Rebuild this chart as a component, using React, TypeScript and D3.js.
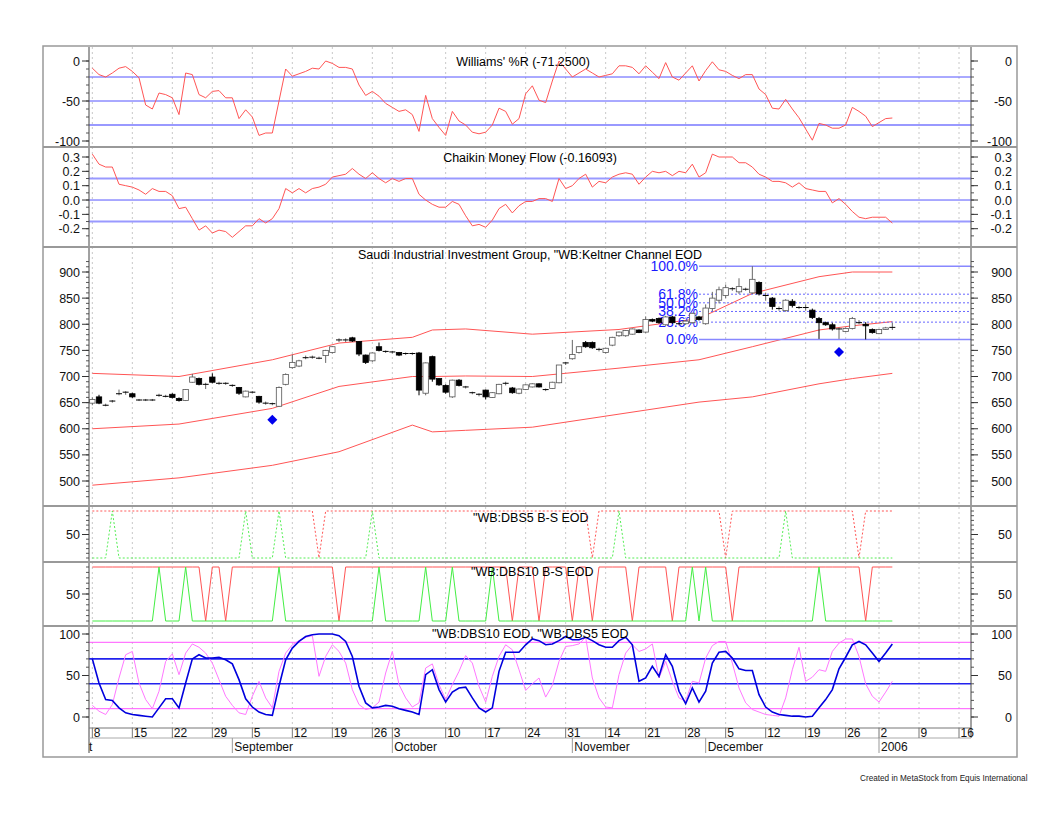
import * as d3 from "d3";

// ---- data (one value per trading bar, Aug 8 2005 .. Jan 3 2006) ----
const opens = [649,661,645,652,666,670,667,655,655,655,664,662,666,658,654,689,696,685,699,687,687,683,679,661,670,662,649,648,643,685,717,720,736,737,735,740,746,770,770,774,767,741,730,757,748,747,746,744,744,745,668,738,696,683,661,693,680,669,666,674,660,667,687,678,668,675,680,686,675,677,688,726,734,746,765,765,752,746,760,778,778,781,789,785,809,811,799,814,801,801,803,814,801,830,846,855,868,862,867,860,880,855,850,830,826,844,832,832,827,811,803,799,791,786,792,803,800,790,782,790,794];
const highs = [660,665,648,655,675,672,669,657,657,657,667,665,668,660,676,705,698,688,706,690,689,685,680,673,672,663,652,650,681,706,742,732,740,740,738,751,758,773,773,776,768,742,746,765,750,749,747,746,746,747,727,740,697,685,694,695,682,671,668,675,670,686,690,680,677,685,687,687,677,690,722,728,770,758,768,767,755,755,776,786,789,792,790,815,811,813,816,816,804,808,822,816,838,862,872,876,871,888,870,911,882,860,852,834,848,848,835,838,830,814,805,803,794,794,814,808,804,792,791,795,803];
const lows = [645,647,643,650,664,665,659,653,653,653,661,660,658,652,653,688,683,676,687,684,684,680,665,660,668,648,646,645,642,683,715,718,733,734,733,726,744,766,766,766,739,724,728,748,745,744,739,741,741,664,664,690,682,667,659,681,677,666,662,656,659,666,683,667,666,674,679,679,672,676,687,722,732,744,755,753,748,744,758,776,776,780,783,783,804,801,797,801,798,799,801,807,799,825,840,850,864,858,864,858,855,845,828,826,824,832,829,826,810,772,797,788,772,785,790,800,771,782,781,789,789];
const closes = [656,649,645,653,667,670,661,655,655,655,664,662,660,654,675,699,685,685,689,687,687,683,668,672,670,651,649,648,679,704,727,730,736,737,735,750,757,770,770,768,743,727,745,750,748,747,741,744,744,674,726,695,684,670,693,683,680,669,666,661,669,685,687,669,676,684,686,680,675,689,722,726,742,757,757,755,752,754,775,785,788,791,784,809,806,803,814,803,801,806,821,809,831,850,866,870,868,872,867,886,858,855,834,830,846,836,832,832,813,803,799,791,791,792,811,803,797,784,790,793,794];

const williamsR = [-9,-17,-20,-15,-9,-7,-13,-21,-55,-60,-40,-42,-46,-67,-15,-17,-42,-46,-38,-37,-46,-46,-72,-61,-70,-93,-90,-90,-50,-10,-19,-16,-13,-9,-10,0,-3,-8,-8,-10,-30,-43,-38,-44,-53,-58,-63,-61,-67,-88,-43,-72,-83,-93,-63,-75,-80,-89,-91,-89,-80,-59,-63,-79,-72,-41,-31,-49,-52,-25,0,-10,-20,-15,-10,-15,-20,-18,-16,-6,-6,-8,-16,-6,-14,-22,-2,-20,-24,-15,-6,-25,-12,-1,-11,-13,-18,-22,-17,-17,-35,-42,-59,-60,-48,-60,-71,-85,-99,-78,-80,-84,-84,-80,-58,-63,-69,-82,-77,-72,-71.25];
const chaikin = [.32,.25,.23,.23,.11,.10,.09,.07,.04,.08,.06,.06,.03,-.06,-.05,-.13,-.21,-.18,-.23,-.21,-.22,-.26,-.22,-.18,-.18,-.13,-.16,-.13,-.06,.08,.05,.08,.05,.08,.09,.11,.16,.17,.18,.22,.18,.15,.19,.15,.12,.15,.13,.15,.15,.04,0,-.03,-.05,-.05,-.01,-.03,-.11,-.18,-.17,-.19,-.14,-.06,-.03,-.09,-.04,-.01,-.01,.01,.01,-.01,.15,.08,.10,.15,.18,.09,.13,.12,.16,.18,.19,.18,.11,.16,.20,.19,.20,.17,.20,.19,.25,.16,.19,.32,.30,.30,.30,.26,.26,.23,.18,.16,.13,.13,.12,.09,.12,.08,.07,.06,.06,-.02,.01,-.03,-.08,-.12,-.13,-.12,-.12,-.12,-.16093];
const dbs10 = [70,41,21,20,11,5,3,2,1,0,11,22,22,11,41,70,75,71,71,72,69,64,45,22,12,6,3,2,37,69,83,91,97,99,100,100,100,98,91,73,37,17,11,12,14,13,10,8,6,3,51,57,33,18,30,35,36,23,11,6,11,55,78,78,78,87,94,92,87,88,92,97,93,93,96,92,87,84,84,92,96,87,43,47,61,49,75,61,31,16,35,18,31,65,78,79,71,58,56,56,27,12,6,3,2,1,1,0,1,11,21,33,58,72,87,91,87,77,67,77,88];
const dbs5 = [14,7,3,15,47,75,79,41,21,10,31,67,76,51,77,88,84,77,65,45,25,14,5,3,25,43,23,11,55,77,87,92,96,98,49,73,87,79,65,33,15,9,11,18,53,79,39,23,12,17,59,64,39,21,39,55,74,65,37,18,49,73,87,81,57,32,40,47,24,38,67,85,86,88,96,47,23,12,11,51,77,87,79,82,88,47,67,43,23,19,43,41,71,86,91,91,65,35,17,9,6,3,2,1,23,57,84,43,48,57,55,79,89,94,94,73,40,25,18,30,43];

// Keltner channel (read at turning points)
const keltnerBars = [0,13,27,37,48,51,56,66,79,91,99,109,114,120];
const keltnerUpper = [706,700,732,764,775,789,791,781,790,811,859,891,900,900];
const keltnerMid = [600,609,639,681,700,700,701,700,716,732,757,789,797,805];
const keltnerLower = [492,506,530,556,607,594,597,603,628,651,661,686,696,706];

// buy / sell signal bars
const dbs5BuyBars = [3,23,28,42,79,104];
const dbs5SellBars = [34,75,95,115];
const dbs10BuyBars = [10,14,28,43,50,54,60,90,92,109];
const dbs10SellBars = [17,20,37,63,67,72,75,81,87,96,116];

const signalBars = [27,112];
const signalPrices = [617,747];
const fibLevels = [0, 23.6, 38.2, 50, 61.8, 100];
const fibStartBar = 91;

const dayTickBars = [0,6,12,18,24,30,36,42,45,53,59,65,71,77,83,89,95,101,107,113,118,124,130];
const dayTickLabels = ["8","15","22","29","5","12","19","26","3","10","17","24","31","14","21","28","5","12","19","26","2","9","16"];
const monthBars = [21,45,72,92,118];
const monthLabels = ["September","October","November","December","2006"];

const FONT = "Liberation Sans, Arial, sans-serif";
const L = 89, R = 971;
const idx = d3.range(opens.length);
const x = d3.scaleLinear().domain([-0.5, 131.8]).range([L, R]);

const panels = {
  wr: { top: 47, bottom: 147, y: d3.scaleLinear().domain([-100, 0]).range([141, 61]) },
  cmf: { top: 147, bottom: 247, y: d3.scaleLinear().domain([-0.2, 0.3]).range([228.7, 157]) },
  price: { top: 247, bottom: 506, y: d3.scaleLinear().domain([500, 900]).range([481, 272]) },
  d5: { top: 506, bottom: 562, y: d3.scaleLinear().domain([0, 100]).range([558, 511]) },
  d10: { top: 562, bottom: 626, y: d3.scaleLinear().domain([0, 100]).range([621, 567]) },
  dd: { top: 626, bottom: 728, y: d3.scaleLinear().domain([0, 100]).range([717, 634]) },
};

function line(vals: number[], y: d3.ScaleLinear<number, number>, bars = idx) {
  return d3.line<number>().x((_, i) => x(bars[i])).y((v) => y(v))(vals) || "";
}

function signalSeries(days: number[], on: number, off: number) {
  return idx.map((i) => (days.includes(i) ? on : off));
}

function Axis({ y, ticks, minor, fmt }: { y: d3.ScaleLinear<number, number>; ticks: number[]; minor: number[]; fmt: (v: number) => string }) {
  return (
    <g fontFamily={FONT} fontSize={12.5} fill="#111">
      {minor.map((v, k) => (
        <g key={"m" + k} stroke="#555">
          <line x1={L - 3} x2={L} y1={y(v)} y2={y(v)} />
          <line x1={R} x2={R + 3} y1={y(v)} y2={y(v)} />
        </g>
      ))}
      {ticks.map((v, k) => (
        <g key={k}>
          <line x1={L - 7} x2={L} y1={y(v)} y2={y(v)} stroke="#333" />
          <line x1={R} x2={R + 7} y1={y(v)} y2={y(v)} stroke="#333" />
          <text x={80} y={y(v) + 4.5} textAnchor="end">{fmt(v)}</text>
          <text x={1012} y={y(v) + 4.5} textAnchor="end">{fmt(v)}</text>
        </g>
      ))}
    </g>
  );
}

function HLine({ y, v, color, w = 1 }: { y: d3.ScaleLinear<number, number>; v: number; color: string; w?: number }) {
  return <line x1={L} x2={R} y1={y(v)} y2={y(v)} stroke={color} strokeWidth={w} />;
}

export default function App() {
  const { wr, cmf, price, d5, d10, dd } = panels;
  const py = price.y;
  const fibLow = d3.min(lows.slice(fibStartBar)) as number;
  const fibHigh = d3.max(highs.slice(fibStartBar)) as number;
  const fibY = (p: number) => py(fibLow + ((fibHigh - fibLow) * p) / 100);
  const red = "#ff5555";

  return (
    <svg width={1060} height={816} style={{ position: "absolute", left: 0, top: 0, background: "#fff" }}>
      <rect width={1060} height={816} fill="#fff" />
      {/* weekly grid */}
      {dayTickBars.map((b, k) => (
        <line key={k} x1={x(b)} x2={x(b)} y1={47} y2={728} stroke="#c8c8c8" strokeDasharray="2,3" />
      ))}

      {/* Williams %R */}
      <HLine y={wr.y} v={-20} color="#5555ff" />
      <HLine y={wr.y} v={-50} color="#5555ff" />
      <HLine y={wr.y} v={-80} color="#9999ff" w={2} />
      <path d={line(williamsR, wr.y)} fill="none" stroke={red} />
      <Axis y={wr.y} ticks={[0, -50, -100]} minor={d3.range(-100, 1, 10)} fmt={(v) => String(v)} />
      <text x={523} y={66} textAnchor="middle" fontFamily={FONT} fontSize={12.5}>Williams' %R (-71.2500)</text>

      {/* Chaikin */}
      <HLine y={cmf.y} v={0.15} color="#9999ff" w={2} />
      <HLine y={cmf.y} v={0} color="#5555ff" />
      <HLine y={cmf.y} v={-0.15} color="#9999ff" w={2} />
      <path d={line(chaikin, cmf.y)} fill="none" stroke={red} />
      <Axis y={cmf.y} ticks={[0.3, 0.2, 0.1, 0, -0.1, -0.2]} minor={d3.range(-0.25, 0.31, 0.05)} fmt={(v) => v.toFixed(1)} />
      <text x={530} y={162} textAnchor="middle" fontFamily={FONT} fontSize={12.5}>Chaikin Money Flow (-0.16093)</text>

      {/* Price */}
      <path d={line(keltnerUpper, py, keltnerBars)} fill="none" stroke={red} />
      <path d={line(keltnerMid, py, keltnerBars)} fill="none" stroke={red} />
      <path d={line(keltnerLower, py, keltnerBars)} fill="none" stroke={red} />
      {fibLevels.map((p, k) => {
        const solid = p === 0 || p === 100;
        return (
          <g key={k}>
            <line x1={x(fibStartBar)} x2={R} y1={fibY(p)} y2={fibY(p)} stroke={solid ? "#8888ff" : "#6666ff"} strokeWidth={solid ? 1.5 : 1} strokeDasharray={solid ? undefined : "2,2"} />
            <text x={x(fibStartBar) - 1} y={fibY(p) + 5} textAnchor="end" fill="#1a1aff" fontFamily={FONT} fontSize={14}>{p.toFixed(1)}%</text>
          </g>
        );
      })}
      {idx.map((i) => {
        const o = opens[i], c = closes[i];
        const cx = x(i);
        const top = py(Math.max(o, c)), bot = py(Math.min(o, c));
        const up = c >= o;
        return (
          <g key={i}>
            <line x1={cx} x2={cx} y1={py(highs[i])} y2={py(lows[i])} stroke={up ? "#666" : "#000"} />
            {bot - top < 1.5 ? (
              <line x1={cx - 3} x2={cx + 3} y1={top} y2={top} stroke="#000" />
            ) : (
              <rect x={cx - 2.7} y={top} width={5.4} height={bot - top} fill={up ? "#fff" : "#000"} stroke={up ? "#555" : "#000"} strokeWidth={0.8} />
            )}
          </g>
        );
      })}
      {signalBars.map((b, k) => {
        const cx = x(b), cy = py(signalPrices[k]);
        return <path key={k} d={`M${cx},${cy - 5}L${cx + 5},${cy}L${cx},${cy + 5}L${cx - 5},${cy}Z`} fill="#0000ee" />;
      })}
      <Axis y={py} ticks={d3.range(500, 901, 50)} minor={d3.range(470, 921, 10)} fmt={(v) => String(v)} />
      <text x={530} y={259} textAnchor="middle" fontFamily={FONT} fontSize={12.5}>Saudi Industrial Investment Group, "WB:Keltner Channel EOD</text>

      {/* DBS5 B-S */}
      <path d={line(signalSeries(dbs5SellBars, 0, 100), d5.y)} fill="none" stroke={red} strokeDasharray="2,2" />
      <path d={line(signalSeries(dbs5BuyBars, 100, 0), d5.y)} fill="none" stroke="#55ee55" strokeDasharray="2,2" />
      <Axis y={d5.y} ticks={[50]} minor={d3.range(0, 101, 10)} fmt={(v) => String(v)} />
      <text x={473} y={522} fontFamily={FONT} fontSize={12.5}>"WB:DBS5 B-S EOD</text>

      {/* DBS10 B-S */}
      <path d={line(signalSeries(dbs10SellBars, 0, 100), d10.y)} fill="none" stroke={red} />
      <path d={line(signalSeries(dbs10BuyBars, 100, 0), d10.y)} fill="none" stroke="#44ee44" />
      <Axis y={d10.y} ticks={[50]} minor={d3.range(0, 101, 10)} fmt={(v) => String(v)} />
      <text x={471} y={576} fontFamily={FONT} fontSize={12.5}>"WB:DBS10 B-S EOD</text>

      {/* DBS10 / DBS5 */}
      <HLine y={dd.y} v={90} color="#ff55ff" />
      <HLine y={dd.y} v={10} color="#ff55ff" />
      <HLine y={dd.y} v={70} color="#2222ee" w={1.6} />
      <HLine y={dd.y} v={40} color="#2222ee" w={1.6} />
      <path d={line(dbs5, dd.y)} fill="none" stroke="#ff77ff" />
      <path d={line(dbs10, dd.y)} fill="none" stroke="#0000dd" strokeWidth={1.6} />
      <Axis y={dd.y} ticks={[0, 50, 100]} minor={d3.range(0, 101, 10)} fmt={(v) => String(v)} />
      <text x={432} y={638} fontFamily={FONT} fontSize={12.5}>"WB:DBS10 EOD, "WB:DBS5 EOD</text>

      {/* frame and separators */}
      <line x1={L} x2={L} y1={47} y2={753} stroke="#444" />
      <line x1={R} x2={R} y1={47} y2={738} stroke="#444" />
      {[147, 247, 506, 562, 626].map((yy) => (
        <line key={yy} x1={43} x2={1017} y1={yy} y2={yy} stroke="#999" strokeWidth={2} />
      ))}
      <line x1={L} x2={R} y1={728} y2={728} stroke="#777" />
      <line x1={L} x2={R} y1={738} y2={738} stroke="#aaa" />
      <rect x={43} y={46} width={974} height={711} fill="none" stroke="#999" strokeWidth={1.5} />

      {/* time axis */}
      <g fontFamily={FONT} fontSize={12} fill="#111">
        {dayTickBars.map((b, k) => (
          <g key={k}>
            <line x1={x(b)} x2={x(b)} y1={728} y2={738} stroke="#777" />
            <text x={x(b) + 1.5} y={737}>{dayTickLabels[k]}</text>
          </g>
        ))}
        <text x={L} y={751}>t</text>
        {monthBars.map((b, k) => (
          <g key={k}>
            <line x1={x(b)} x2={x(b)} y1={738} y2={753} stroke="#999" />
            <text x={x(b) + 2} y={751}>{monthLabels[k]}</text>
          </g>
        ))}
      </g>
      <text x={860} y={781} fontFamily={FONT} fontSize={8.2} fill="#222">Created in MetaStock from Equis International</text>
    </svg>
  );
}
